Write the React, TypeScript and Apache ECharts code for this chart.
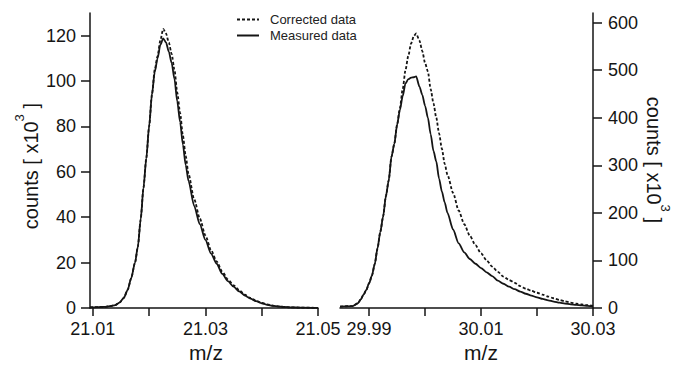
import React, { useEffect, useRef } from "react";
import * as echarts from "echarts";

// ---- Data ----
const leftX = [21.0095, 21.011, 21.012, 21.013, 21.014, 21.0148, 21.0155, 21.0162, 21.0168, 21.0175, 21.018, 21.0185, 21.019, 21.0195, 21.02, 21.0205, 21.021, 21.0215, 21.022, 21.0225, 21.023, 21.0235, 21.024, 21.0245, 21.025, 21.0255, 21.026, 21.0265, 21.027, 21.028, 21.029, 21.03, 21.031, 21.032, 21.033, 21.034, 21.035, 21.036, 21.037, 21.038, 21.039, 21.04, 21.041, 21.042, 21.043, 21.044, 21.045, 21.047, 21.05];
const leftMeasured = [0.3, 0.4, 0.5, 0.8, 1.3, 2.5, 4.5, 8, 13, 20, 27, 39, 53, 66, 80, 94, 104, 110, 116, 118.8, 117, 113, 108, 101, 91, 82, 72, 63, 56, 45, 37, 30, 24, 19.5, 15, 11.8, 9.4, 7.3, 5.5, 4.1, 3.0, 2.1, 1.4, 0.95, 0.65, 0.45, 0.3, 0.15, 0.05];
const leftCorrected = [0.3, 0.4, 0.5, 0.8, 1.3, 2.5, 4.5, 8, 13, 20, 27, 39, 53, 66, 80, 94, 105, 111, 118, 123, 121, 117, 112, 105, 95, 86, 76, 67, 59, 48, 39.5, 32, 25.5, 20.5, 16, 12.6, 10, 7.8, 5.9, 4.4, 3.2, 2.3, 1.6, 1.05, 0.7, 0.5, 0.33, 0.17, 0.06];

const rightX = [29.9848, 29.987, 29.988, 29.9885, 29.989, 29.9895, 29.99, 29.9905, 29.991, 29.9915, 29.992, 29.9925, 29.993, 29.9935, 29.994, 29.9945, 29.995, 29.9955, 29.996, 29.9965, 29.997, 29.9975, 29.998, 29.9984, 29.999, 29.9995, 30.0, 30.0005, 30.001, 30.0015, 30.002, 30.0025, 30.003, 30.0035, 30.004, 30.005, 30.006, 30.007, 30.008, 30.009, 30.01, 30.011, 30.012, 30.013, 30.014, 30.015, 30.016, 30.017, 30.018, 30.019, 30.02, 30.021, 30.022, 30.023, 30.024, 30.025, 30.026, 30.027, 30.028, 30.029, 30.03];
const rightMeasured = [3, 4, 10, 18, 28, 38, 52, 68, 92, 125, 160, 192, 235, 268, 318, 345, 385, 416, 445, 472, 481, 484, 485, 487, 465, 448, 425, 400, 365, 330, 308, 272, 245, 222, 200, 165, 136, 117, 103, 93, 84, 75, 67, 57.5, 51, 45, 39.5, 34.5, 30, 26, 22.5, 19, 16, 13.5, 11.2, 9.3, 7.8, 6.5, 5.4, 4.4, 3.5];
const rightCorrected = [3, 4, 10, 18, 28, 38, 52, 68, 92, 125, 160, 192, 235, 268, 318, 345, 385, 420, 460, 500, 530, 556, 572, 577, 562, 540, 515, 497, 460, 430, 400, 367, 335, 303, 280, 242, 205, 176, 152, 132, 115, 100, 87, 76, 66, 59, 53, 46, 40.5, 36, 32, 28, 24, 20.5, 17, 14, 11.5, 9, 7.5, 6, 4.5];

const leftXTicks = [21.01, 21.02, 21.03, 21.04, 21.05];
const leftXLabels = [21.01, 21.03, 21.05];
const rightXTicks = [29.99, 30.0, 30.01, 30.02, 30.03];
const rightXLabels = [29.99, 30.01, 30.03];
const leftYTicks = [0, 20, 40, 60, 80, 100, 120];
const rightYTicks = [0, 100, 200, 300, 400, 500, 600];

const seriesNames = ["Corrected data", "Measured data"];

const FONT = "Liberation Sans";
const INK = "#151515";

function pairs(xs: number[], ys: number[]) {
  return xs.map((x, i) => [x, ys[i]]);
}

export default function App() {
  const ref = useRef<HTMLDivElement>(null);

  useEffect(() => {
    if (!ref.current) return;
    const chart = echarts.init(ref.current, undefined, { renderer: "svg" });

    const axisLine = { show: true, lineStyle: { color: INK, width: 1.5 } };
    const tickStyle = { lineStyle: { color: INK, width: 1.5 } };
    const labelStyle = { color: INK, fontFamily: FONT, fontSize: 18 };

    const nameRich = {
      a: { fontFamily: FONT, fontSize: 20, lineHeight: 22, verticalAlign: "bottom", fill: INK },
      b: { fontFamily: FONT, fontSize: 13, lineHeight: 15, verticalAlign: "top", fill: INK },
      s: { fontFamily: FONT, fontSize: 1, lineHeight: 28 },
    };

    const lineCommon = { type: "line", symbol: "none", smooth: 0.25, smoothMonotone: "x" };

    const option: any = {
      animation: false,
      backgroundColor: "#ffffff",
      legend: {
        data: seriesNames,
        orient: "vertical",
        left: 236,
        top: 12,
        padding: 0,
        itemWidth: 22,
        itemHeight: 10,
        itemGap: 1,
        itemStyle: { opacity: 0 },
        textStyle: { fontFamily: FONT, fontSize: 13, lineHeight: 15, color: "#222", padding: [0, 0, 0, 6] },
      },
      grid: [
        { left: 90, top: 13, width: 228, height: 295 },
        { left: 340, top: 13, width: 253, height: 295 },
      ],
      xAxis: [
        {
          type: "value",
          gridIndex: 0,
          min: 21.0095,
          max: 21.05,
          axisLine,
          axisTick: { show: true, customValues: leftXTicks, length: 8, ...tickStyle },
          axisLabel: { ...labelStyle, margin: 12, customValues: leftXLabels, formatter: (v: number) => v.toFixed(2) },
          splitLine: { show: false },
        },
        {
          type: "value",
          gridIndex: 1,
          min: 29.9848,
          max: 30.03,
          axisLine,
          axisTick: { show: true, customValues: rightXTicks, length: 8, ...tickStyle },
          axisLabel: { ...labelStyle, margin: 12, customValues: rightXLabels, formatter: (v: number) => v.toFixed(2) },
          splitLine: { show: false },
        },
      ],
      yAxis: [
        {
          type: "value",
          gridIndex: 0,
          position: "left",
          min: 0,
          max: 130,
          axisLine,
          axisTick: { show: true, customValues: leftYTicks, length: 9, ...tickStyle },
          axisLabel: { ...labelStyle, margin: 14, customValues: leftYTicks },
          splitLine: { show: false },
        },
        {
          type: "value",
          gridIndex: 1,
          position: "right",
          min: 0,
          max: 620,
          axisLine,
          axisTick: { show: true, customValues: rightYTicks, length: 9, ...tickStyle },
          axisLabel: { ...labelStyle, margin: 15, customValues: rightYTicks },
          splitLine: { show: false },
        },
      ],
      series: [
        {
          ...lineCommon,
          name: seriesNames[0],
          xAxisIndex: 0,
          yAxisIndex: 0,
          data: pairs(leftX, leftCorrected),
          lineStyle: { color: INK, width: 1.8, type: [3, 2] },
          itemStyle: { color: INK },
          z: 3,
        },
        {
          ...lineCommon,
          name: seriesNames[1],
          xAxisIndex: 0,
          yAxisIndex: 0,
          data: pairs(leftX, leftMeasured),
          lineStyle: { color: INK, width: 1.8 },
          itemStyle: { color: INK },
          z: 2,
        },
        {
          ...lineCommon,
          name: seriesNames[0],
          xAxisIndex: 1,
          yAxisIndex: 1,
          data: pairs(rightX, rightCorrected),
          lineStyle: { color: INK, width: 1.8, type: [3, 2] },
          itemStyle: { color: INK },
          z: 3,
        },
        {
          ...lineCommon,
          name: seriesNames[1],
          xAxisIndex: 1,
          yAxisIndex: 1,
          data: pairs(rightX, rightMeasured),
          lineStyle: { color: INK, width: 1.8 },
          itemStyle: { color: INK },
          z: 2,
        },
      ],
      graphic: [
        {
          type: "text",
          x: 27,
          y: 166,
          rotation: Math.PI / 2,
          style: {
            text: "{a|counts [ x10}{b|3}{a| ]}{s| }",
            rich: nameRich,
            align: "center",
            verticalAlign: "middle",
            fill: INK,
          },
        },
        {
          type: "text",
          x: 658,
          y: 160,
          rotation: -Math.PI / 2,
          style: {
            text: "{a|counts [ x10}{b|3}{a| ]}{s| }",
            rich: nameRich,
            align: "center",
            verticalAlign: "middle",
            fill: INK,
          },
        },
        {
          type: "text",
          x: 206,
          y: 352,
          style: { text: "m/z", fontFamily: FONT, fontSize: 21, fill: INK, align: "center", verticalAlign: "middle" },
        },
        {
          type: "text",
          x: 481,
          y: 352,
          style: { text: "m/z", fontFamily: FONT, fontSize: 21, fill: INK, align: "center", verticalAlign: "middle" },
        },
      ],
    };

    chart.setOption(option);
    return () => chart.dispose();
  }, []);

  return (
    <div
      ref={ref}
      style={{ position: "absolute", left: 0, top: 0, width: 677, height: 371, background: "#fff" }}
    />
  );
}
